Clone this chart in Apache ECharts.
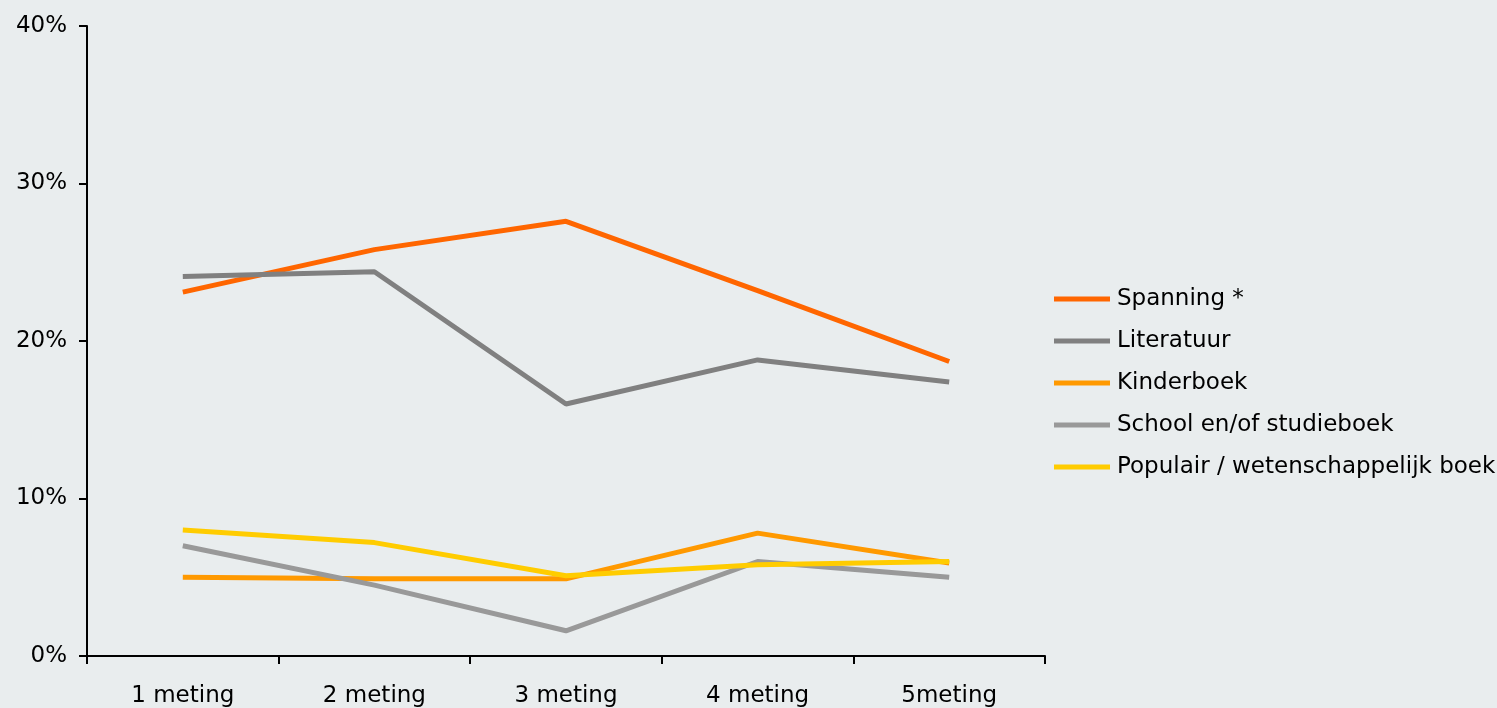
<!DOCTYPE html>
<html>
<head>
<meta charset="utf-8">
<script src="https://cdn.jsdelivr.net/npm/echarts@6/dist/echarts.min.js"></script>
<style>
html,body{margin:0;padding:0;background:#e9edee;}
#chart{width:1497px;height:708px;}
</style>
</head>
<body>
<div id="chart"></div>
<script>
const categories = ['1 meting', '2 meting', '3 meting', '4 meting', '5meting'];
const spanning = [23.1, 25.8, 27.6, 23.2, 18.7];
const literatuur = [24.1, 24.4, 16.0, 18.8, 17.4];
const kinderboek = [5.0, 4.9, 4.9, 7.8, 5.9];
const school = [7.0, 4.5, 1.6, 6.0, 5.0];
const populair = [8.0, 7.2, 5.1, 5.8, 6.0];
const seriesNames = ['Spanning *', 'Literatuur', 'Kinderboek', 'School en/of studieboek', 'Populair / wetenschappelijk boek'];
const seriesData = [spanning, literatuur, kinderboek, school, populair];
const colors = ['#ff6600', '#808080', '#ff9900', '#999999', '#ffcc00'];

const font = 'Tahoma, "DejaVu Sans", Verdana, sans-serif';
const chart = echarts.init(document.getElementById('chart'));
chart.setOption({
  backgroundColor: '#e9edee',
  animation: false,
  grid: { left: 87, right: 452, top: 26, bottom: 50.5, containLabel: false },
  legend: {
    orient: 'vertical',
    left: 1049,
    top: 282,
    icon: 'rect',
    itemWidth: 56,
    itemHeight: 5,
    itemGap: 18,
    textStyle: { fontFamily: font, fontSize: 23, color: '#000', lineHeight: 24, padding: [0, 0, 0, 2] },
    data: seriesNames
  },
  xAxis: {
    type: 'category',
    data: categories,
    boundaryGap: true,
    axisLine: { lineStyle: { color: '#000', width: 2 } },
    axisTick: { show: true, length: 8, lineStyle: { color: '#000', width: 2 } },
    axisLabel: { fontFamily: font, fontSize: 23, color: '#000', margin: 29 },
    splitLine: { show: false }
  },
  yAxis: {
    type: 'value',
    min: 0, max: 40, interval: 10,
    axisLine: { show: true, lineStyle: { color: '#000', width: 2 } },
    axisTick: { show: true, length: 8, lineStyle: { color: '#000', width: 2 } },
    axisLabel: { fontFamily: font, fontSize: 23, color: '#000', margin: 20, formatter: '{value}%' },
    splitLine: { show: false }
  },
  series: seriesNames.map((n, i) => ({
    name: n,
    type: 'line',
    data: seriesData[i],
    showSymbol: false,
    symbol: 'none',
    lineStyle: { color: colors[i], width: 5 },
    itemStyle: { color: colors[i] }
  }))
});
</script>
</body>
</html>
